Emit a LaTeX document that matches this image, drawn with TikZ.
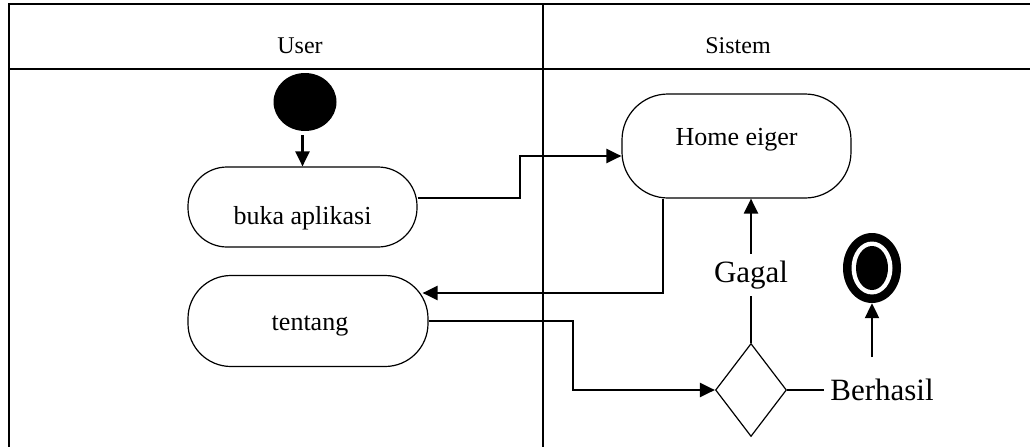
\documentclass[tikz,border=0pt]{standalone}
\usepackage{fontspec}
\setmainfont{Liberation Serif}
\usetikzlibrary{arrows.meta,shapes.geometric,calc}
\begin{document}
\begin{tikzpicture}[x=1pt,y=-1pt,
  lane/.style={line width=1.6pt},
  act/.style={draw, line width=1.2pt, inner sep=0pt},
  acttext/.style={font=\fontsize{26}{28}\selectfont, anchor=base, inner sep=0pt},
  head/.style={font=\fontsize{24}{26}\selectfont, anchor=base, inner sep=0pt},
  guard/.style={font=\fontsize{31}{33}\selectfont},
  link/.style={line width=1.3pt},
  arr/.style={line width=2.2pt, -{Triangle[length=15pt,width=14pt]}},
  blob/.style={ellipse, inner sep=0pt}]
\useasboundingbox (0,0) rectangle (1030,447);

% swimlane frame
\draw[lane] (8,4) -- (1030,4);
\draw[lane] (8,69) -- (1030,69);
\draw[lane] (9,4) -- (9,447);
\draw[lane] (543,4) -- (543,447);
\node[head] (userH) at (300,53) {User};
\node[head] (sysH) at (738,53) {Sistem};

% start node
\node[blob, fill=black, minimum width=63pt, minimum height=58pt] (start) at (305,102) {};

% activities
\node[act, rounded corners=39pt, minimum width=229pt, minimum height=80pt] (buka) at (302.5,207) {};
\node[acttext] (bukaT) at (302.5,224) {buka aplikasi};
\node[act, rounded corners=46pt, minimum width=229pt, minimum height=104pt] (home) at (736.5,146) {};
\node[acttext] (homeT) at (736.5,145) {Home eiger};
\node[act, rounded corners=43pt, minimum width=240pt, minimum height=91pt] (tentang) at (308,321) {};
\node[acttext] (tentangT) at (310,330) {tentang};

% decision
\node[diamond, draw, line width=1.2pt, inner sep=0pt, minimum width=71pt, minimum height=93pt] (dec) at (751,390) {};
\node[guard, inner sep=0pt, minimum height=42pt] (gagal) at (751,275) {Gagal};
\node[guard, inner ysep=0pt, inner xsep=6pt] (ok) at (882,390) {Berhasil};

% end node
\node[blob, fill=black, minimum width=58pt, minimum height=70pt] (end) at (872,268) {};
\node[blob, fill=white, minimum width=41pt, minimum height=53pt] (endRing) at (end.center) {};
\node[blob, fill=black, minimum width=32pt, minimum height=44pt] (endDot) at (end.center) {};
\coordinate (tail) at (872,357);

% flows
\draw[arr] ($(buka.north |- start.south)+(0,4)$) -- (buka.north);
\draw[arr] ($(buka.east)+(0,-9)$) -- ++(102,0) |- ($(home.west)+(0,10)$);
\draw[arr] ($(home.south)+(-73.5,0)$) |- ($(tentang.east)+(-6,-28)$);
\draw[arr] (tentang.east) -- ++(144,0) |- (dec.west);
\draw[link] (dec.north) -- (gagal.south);
\draw[arr] (gagal.north) -- (gagal.north |- home.south);
\draw[link] (dec.east) -- (ok.west);
\draw[arr] (tail) -- (end.south);
\end{tikzpicture}
\end{document}
